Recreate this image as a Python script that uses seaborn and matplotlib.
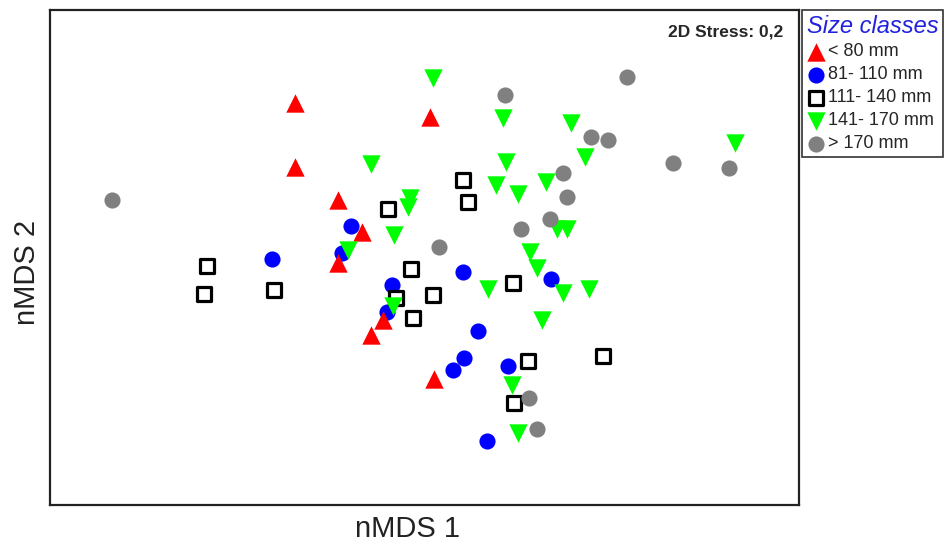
import numpy as np
import pandas as pd
import matplotlib
matplotlib.use('Agg')
import matplotlib.pyplot as plt
import seaborn as sns

# nMDS coordinates, one pair of arrays per size class
red_x = [-1.30, -1.30, -0.87, 0.05, -0.63, -0.87, -0.42, -0.54, 0.09]
red_y = [1.97, 1.33, 1.00, 1.83, 0.68, 0.37, -0.20, -0.35, -0.79]

blue_x = [-0.74, -1.53, -0.83, -0.33, -0.38, 0.38, 0.53, 0.39, 0.28, 0.83, 1.26, 0.62]
blue_y = [0.74, 0.41, 0.47, 0.15, -0.12, 0.28, -0.31, -0.58, -0.70, -0.66, 0.21, -1.41]

square_x = [-2.18, -2.21, -1.51, -0.37, -0.14, -0.29, 0.08, -0.12, 0.38, 0.43, 0.88, 1.03, 1.78, 0.89]
square_y = [0.34, 0.06, 0.10, 0.91, 0.31, 0.02, 0.05, -0.18, 1.20, 0.98, 0.17, -0.61, -0.56, -1.03]

green_x = [0.08, -0.54, -0.15, -0.17, -0.31, -0.77, -0.32, 0.78, 1.46, 1.60, 0.81, 0.71, 0.93,
           1.21, 1.32, 1.42, 1.05, 1.12, 0.63, 1.38, 1.64, 1.17, 0.87, 0.93, 3.10]
green_y = [2.22, 1.36, 1.02, 0.93, 0.65, 0.50, -0.06, 1.82, 1.77, 1.43, 1.38, 1.15, 1.06,
           1.18, 0.71, 0.71, 0.48, 0.32, 0.11, 0.07, 0.11, -0.20, -0.85, -1.33, 1.57]

gray_x = [-3.13, 2.02, 0.80, 1.66, 1.83, 2.48, 3.04, 1.38, 1.42, 1.25, 0.96, 0.14, 1.04, 1.12]
gray_y = [1.00, 2.23, 2.05, 1.63, 1.60, 1.37, 1.32, 1.27, 1.03, 0.81, 0.71, 0.53, -0.98, -1.29]

class_labels = ["< 80 mm", "81- 110 mm", "111- 140 mm", "141- 170 mm", "> 170 mm"]

frames = []
for lab, xs, ys in zip(class_labels,
                       [red_x, blue_x, square_x, green_x, gray_x],
                       [red_y, blue_y, square_y, green_y, gray_y]):
    frames.append(pd.DataFrame({"nMDS1": xs, "nMDS2": ys, "size_class": lab}))
df = pd.concat(frames, ignore_index=True)

sns.set_style("white")
plt.rcParams['font.family'] = ['Liberation Sans', 'DejaVu Sans']

fig = plt.figure(figsize=(9.49, 5.46), dpi=100)
ax = fig.add_axes([50 / 949, 1 - 505 / 546, 749 / 949, 495 / 546])

# style per class: marker, face, edge, size, linewidth
styles = {
    "< 80 mm": ("^", "#ff0000", "#ff0000", 175, 0),
    "81- 110 mm": ("o", "#0000ff", "#0000ff", 135, 0),
    "111- 140 mm": ("s", "white", "black", 95, 2.3),
    "141- 170 mm": ("v", "#00ff00", "#00ff00", 175, 0),
    "> 170 mm": ("o", "#808080", "#808080", 135, 0),
}
draw_order = ["81- 110 mm", "< 80 mm", "111- 140 mm", "141- 170 mm", "> 170 mm"]
handles = {}
for lab in draw_order:
    mk, fc, ec, s, lw = styles[lab]
    sub = df[df["size_class"] == lab]
    sns.scatterplot(data=sub, x="nMDS1", y="nMDS2", marker=mk, color=fc,
                    edgecolor=ec, s=s, linewidth=lw, ax=ax, label=lab, legend=False)
    handles[lab] = ax.collections[-1]

ax.set_xlim(-3.75, 3.74)
ax.set_ylim(-2.05, 2.90)
ax.set_xticks([])
ax.set_yticks([])
for sp in ax.spines.values():
    sp.set_visible(True)
    sp.set_color("#222222")
    sp.set_linewidth(1.6)

ax.set_xlabel("nMDS 1", fontsize=21, color="#222222")
ax.set_ylabel("nMDS 2", fontsize=21, color="#222222")
ax.xaxis.set_label_coords(0.477, -0.02)
ax.yaxis.set_label_coords(-0.012, 0.47)

ax.text(0.979, 0.955, "2D Stress: 0,2", transform=ax.transAxes, ha="right", va="center",
        fontsize=12.5, fontweight="bold",
        family=['Liberation Sans Narrow', 'Liberation Sans', 'DejaVu Sans'])

leg = fig.legend([handles[l] for l in class_labels], class_labels,
                 loc="upper left", bbox_to_anchor=(802 / 949, 1 - 10 / 546),
                 borderaxespad=0, frameon=True, fancybox=False, edgecolor="black",
                 fontsize=13, title="Size classes", alignment="left",
                 handletextpad=0.2, handlelength=1.0, labelspacing=0.33,
                 borderpad=0.25, markerscale=1.0)
leg.get_frame().set_linewidth(1.2)
leg.get_title().set_color("#2222dd")
leg.get_title().set_fontstyle("italic")
leg.get_title().set_fontsize(17)

fig.savefig("out.png", dpi=100)
plt.close(fig)
